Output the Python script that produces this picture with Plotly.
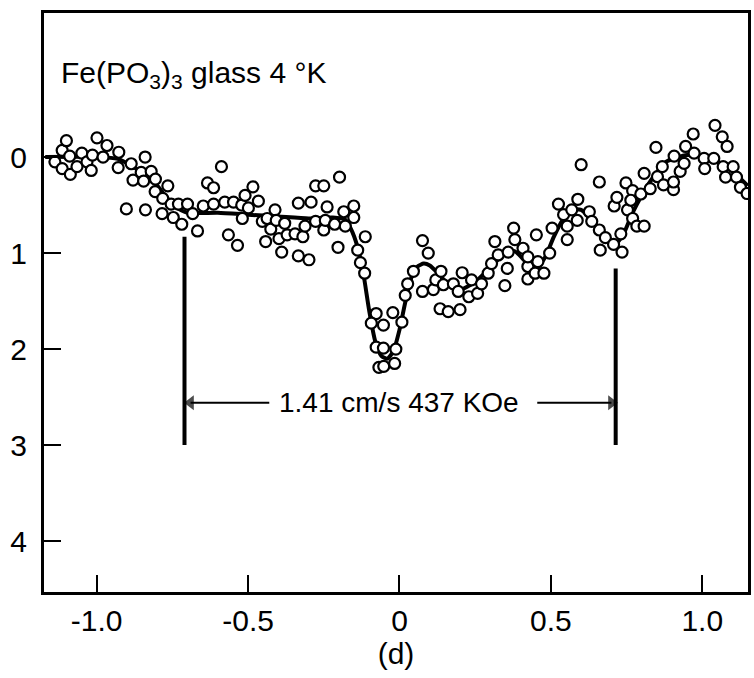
import plotly.graph_objects as go

# ---- data ----
pts_x = [-1.138, -1.114, -1.100, -1.114, -1.089, -1.087, -1.065, -1.049, -1.032, -1.018,
         -1.014, -0.999, -0.979, -0.966, -0.927, -0.929, -0.886, -0.880, -0.853, -0.845,
         -0.840, -0.820, -0.806, -0.807, -0.782, -0.765, -0.784, -0.902, -0.839, -0.754,
         -0.747, -0.730, -0.719, -0.700, -0.683, -0.667, -0.648, -0.634, -0.614, -0.614,
         -0.588, -0.577, -0.565, -0.548, -0.535, -0.521, -0.519, -0.510, -0.499, -0.484,
         -0.466, -0.453, -0.437, -0.425, -0.442, -0.411, -0.407, -0.398, -0.389, -0.379,
         -0.371, -0.345, -0.334, -0.334, -0.319, -0.312, -0.299, -0.292, -0.277, -0.277,
         -0.250, -0.250, -0.239, -0.245, -0.214, -0.203, -0.198, -0.184, -0.179, -0.151,
         -0.151, -0.138, -0.129, -0.113, -0.115,
         -0.077, -0.093, -0.053, -0.022, 0.008, -0.077, -0.053, -0.012, -0.068, -0.052,
         -0.016, 0.019, 0.027, 0.046, 0.076, 0.076, 0.095, 0.112, 0.120, 0.137,
         0.145, 0.134, 0.161, 0.200, 0.178, 0.194, 0.207, 0.229, 0.238, 0.258,
         0.271, 0.293, 0.304, 0.315, 0.348, 0.356, 0.326, 0.359, 0.381, 0.408,
         0.424, 0.424, 0.448, 0.457, 0.477, 0.452, 0.496, 0.554,
         0.377, 0.424, 0.504, 0.525, 0.542, 0.554, 0.569, 0.589, 0.587, 0.600,
         0.627, 0.635, 0.660, 0.660, 0.680, 0.663, 0.707, 0.735, 0.731, 0.709,
         0.718, 0.748, 0.753, 0.770, 0.764, 0.770, 0.784, 0.808, 0.797, 0.808,
         0.828, 0.847, 0.852, 0.868, 0.872, 0.905, 0.905, 0.907, 0.927, 0.940,
         0.945, 0.970, 0.973, 1.006, 1.008, 1.038, 1.042, 1.066, 1.082, 1.069,
         1.077, 1.102, 1.113, 1.126, 1.148]
pts_y = [0.05, -0.07, -0.17, 0.12, -0.01, 0.18, 0.10, -0.04, 0.05, 0.14,
         -0.02, -0.20, 0.00, -0.12, -0.05, 0.11, 0.07, 0.24, 0.16, 0.25,
         0.00, 0.15, 0.23, 0.36, 0.43, 0.30, 0.59, 0.54, 0.55, 0.49,
         0.63, 0.49, 0.70, 0.49, 0.59, 0.77, 0.51, 0.27, 0.32, 0.49,
         0.10, 0.47, 0.81, 0.47, 0.92, 0.50, 0.64, 0.40, 0.53, 0.31,
         0.46, 0.67, 0.64, 0.75, 0.88, 0.55, 0.66, 0.85, 0.99, 0.69,
         0.81, 0.80, 0.48, 1.03, 0.83, 0.72, 1.07, 0.47, 0.30, 0.67,
         0.30, 0.76, 0.52, 0.66, 0.70, 0.94, 0.21, 0.57, 0.72, 0.51,
         0.63, 0.97, 1.10, 0.83, 1.21,
         1.63, 1.73, 1.75, 1.62, 1.72, 1.98, 1.99, 2.00, 2.19, 2.18,
         2.15, 1.44, 1.32, 1.19, 1.40, 0.87, 1.00, 1.38, 1.28, 1.19,
         1.33, 1.58, 1.61, 1.59, 1.32, 1.40, 1.205, 1.455, 1.28, 1.42,
         1.32, 1.21, 1.11, 0.88, 1.34, 1.16, 1.02, 0.99, 0.86, 0.95,
         1.14, 1.27, 1.21, 1.09, 1.21, 0.81, 1.00, 0.86,
         0.74, 1.04, 0.74, 0.49, 0.60, 0.72, 0.55, 0.44, 0.66, 0.08,
         0.57, 0.67, 0.26, 0.76, 0.84, 0.97, 0.91, 0.99, 0.80, 0.51,
         0.42, 0.27, 0.55, 0.35, 0.45, 0.64, 0.72, 0.72, 0.385, 0.17,
         0.33, -0.10, 0.205, 0.10, 0.29, 0.34, 0.26, -0.01, 0.15, 0.066,
         -0.11, -0.24, -0.04, 0.014, 0.12, 0.014, -0.33, -0.21, -0.11, 0.10,
         0.21, 0.10, 0.21, 0.315, 0.38]

fit_x = [-1.17, -1.0, -0.93, -0.87, -0.82, -0.78, -0.74, -0.70, -0.6, -0.5, -0.4, -0.3,
         -0.22, -0.18, -0.16, -0.14, -0.12, -0.10, -0.08, -0.06, -0.04, -0.02, 0.0,
         0.02, 0.04, 0.06, 0.08, 0.10, 0.13, 0.16, 0.20, 0.25, 0.30, 0.35, 0.38,
         0.42, 0.45, 0.48, 0.51, 0.54, 0.57, 0.60, 0.64, 0.68, 0.71, 0.74, 0.77,
         0.80, 0.84, 0.88, 0.95, 1.0, 1.05, 1.10, 1.15]
fit_y = [0.0, 0.0, 0.02, 0.12, 0.22, 0.38, 0.52, 0.58, 0.58, 0.60, 0.62, 0.64,
         0.63, 0.65, 0.75, 0.92, 1.20, 1.60, 1.92, 2.07, 2.10, 2.02, 1.80,
         1.50, 1.25, 1.14, 1.11, 1.13, 1.22, 1.32, 1.38, 1.30, 1.15, 1.00, 0.98,
         1.10, 1.17, 1.05, 0.83, 0.65, 0.55, 0.55, 0.68, 0.85, 0.92, 0.80, 0.58,
         0.40, 0.20, 0.05, -0.02, 0.0, 0.05, 0.15, 0.30]

marker_x = [-0.71, 0.714]
marker_top = [0.83, 1.16]
marker_bottom = [3.0, 3.0]

# splitting arrows: (tail, head) along the label row
arrow_tail = [-0.43, 0.455]
arrow_head = [-0.69, 0.70]
arrow_row = 2.56

x_ticks = [-1.0, -0.5, 0, 0.5, 1.0]
x_ticklabels = ["-1.0", "-0.5", "0", "0.5", "1.0"]
y_ticks = [0, 1, 2, 3, 4]
y_ticklabels = ["0", "1", "2", "3", "4"]

title_text = "Fe(PO<sub>3</sub>)<sub>3</sub> glass 4 °K"
split_text = "1.41 cm/s 437 KOe"
x_title = "(d)"

FONT = "Liberation Sans, Arial, sans-serif"

fig = go.Figure()
fig.add_trace(go.Scatter(x=fit_x, y=fit_y, mode="lines",
                         line=dict(color="black", width=4, shape="spline", smoothing=0.6),
                         hoverinfo="skip", showlegend=False))
fig.add_trace(go.Scatter(x=pts_x, y=pts_y, mode="markers",
                         marker=dict(symbol="circle", size=11, color="white",
                                     line=dict(color="black", width=2.2)),
                         showlegend=False))
for mx, t, b in zip(marker_x, marker_top, marker_bottom):
    fig.add_trace(go.Scatter(x=[mx, mx], y=[t, b], mode="lines",
                             line=dict(color="black", width=4), showlegend=False))

# arrows drawn as line traces ending in an arrow-shaped marker
for tail, head in zip(arrow_tail, arrow_head):
    sym = "triangle-left" if head < tail else "triangle-right"
    fig.add_trace(go.Scatter(x=[tail, head], y=[arrow_row, arrow_row], mode="lines+markers",
                             line=dict(color="black", width=2),
                             marker=dict(symbol=["circle", sym], size=[0, 13],
                                         color="black", line=dict(width=0)),
                             hoverinfo="skip", showlegend=False))

# title text
fig.add_annotation(x=-1.125, y=-0.86, xref="x", yref="y", text=title_text,
                   showarrow=False, xanchor="left", yanchor="middle",
                   font=dict(family=FONT, size=30, color="black"))
# splitting label
fig.add_annotation(x=0.0, y=arrow_row, xref="x", yref="y", text=split_text,
                   showarrow=False, xanchor="center", yanchor="middle",
                   font=dict(family=FONT, size=28, color="black"))

fig.update_layout(
    width=754, height=678,
    margin=dict(l=44, r=3, t=13, b=86),
    paper_bgcolor="white", plot_bgcolor="white",
    font=dict(family=FONT, color="black"),
    xaxis=dict(range=[-1.174, 1.151], tickmode="array", tickvals=x_ticks,
               ticktext=x_ticklabels, ticks="inside", ticklen=17, tickwidth=2,
               tickcolor="black", showgrid=False, zeroline=False, showline=True,
               linecolor="black", linewidth=3, mirror=True,
               tickfont=dict(family=FONT, size=30, color="black"),
               title=dict(text=x_title, font=dict(family=FONT, size=30, color="black"),
                          standoff=2)),
    yaxis=dict(range=[4.53, -1.5], tickmode="array", tickvals=y_ticks,
               ticktext=y_ticklabels, ticks="inside", ticklen=17, tickwidth=2,
               tickcolor="black", showgrid=False, zeroline=False, showline=True,
               linecolor="black", linewidth=3, mirror=True, ticklabelstandoff=8,
               tickfont=dict(family=FONT, size=30, color="black")),
)

fig.write_html("out.html")
